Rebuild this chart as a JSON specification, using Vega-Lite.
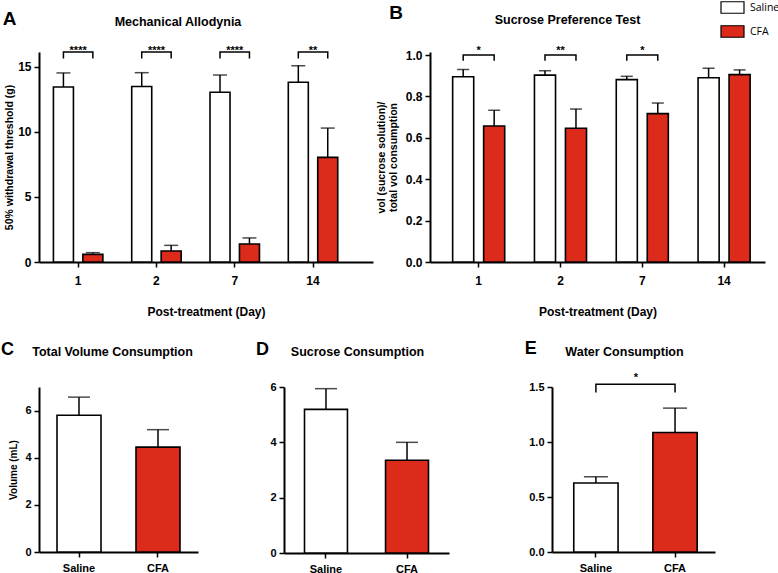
{
  "$schema": "https://vega.github.io/schema/vega-lite/v6.json",
  "padding": {"left": 0, "top": -5, "right": 0, "bottom": 0},
  "background": "white",
  "config": {
    "view": {"stroke": null},
    "font": "Liberation Sans",
    "axis": {"domainColor": "black", "domainWidth": 2, "tickColor": "black", "tickWidth": 1.5, "tickSize": 5, "labelColor": "black", "labelFont": "Liberation Sans", "labelFontWeight": "bold", "labelFontSize": 12, "titleFont": "Liberation Sans", "titleFontWeight": "bold", "titleColor": "black", "titleFontSize": 11, "grid": false, "labelPadding": 3},
    "axisX": {"labelAngle": 0},
    "title": {"font": "Liberation Sans", "fontWeight": "bold", "fontSize": 12.5, "color": "black"}
  },
  "datasets": {
    "allodynia": [
      {"day": "1", "group": "Saline", "mean": 13.46, "upper": 14.54},
      {"day": "1", "group": "CFA", "mean": 0.59, "upper": 0.72},
      {"day": "2", "group": "Saline", "mean": 13.5, "upper": 14.56},
      {"day": "2", "group": "CFA", "mean": 0.85, "upper": 1.28},
      {"day": "7", "group": "Saline", "mean": 13.05, "upper": 14.38},
      {"day": "7", "group": "CFA", "mean": 1.38, "upper": 1.85},
      {"day": "14", "group": "Saline", "mean": 13.82, "upper": 15.1},
      {"day": "14", "group": "CFA", "mean": 8.05, "upper": 10.3}
    ],
    "spt": [
      {"day": "1", "group": "Saline", "mean": 0.895, "upper": 0.93},
      {"day": "1", "group": "CFA", "mean": 0.657, "upper": 0.733},
      {"day": "2", "group": "Saline", "mean": 0.903, "upper": 0.924},
      {"day": "2", "group": "CFA", "mean": 0.646, "upper": 0.739},
      {"day": "7", "group": "Saline", "mean": 0.881, "upper": 0.897},
      {"day": "7", "group": "CFA", "mean": 0.717, "upper": 0.768},
      {"day": "14", "group": "Saline", "mean": 0.89, "upper": 0.936},
      {"day": "14", "group": "CFA", "mean": 0.905, "upper": 0.928}
    ],
    "total": [
      {"group": "Saline", "mean": 5.8, "upper": 6.57},
      {"group": "CFA", "mean": 4.45, "upper": 5.19}
    ],
    "sucrose": [
      {"group": "Saline", "mean": 5.19, "upper": 5.94},
      {"group": "CFA", "mean": 3.35, "upper": 4.0}
    ],
    "water": [
      {"group": "Saline", "mean": 0.627, "upper": 0.684},
      {"group": "CFA", "mean": 1.086, "upper": 1.308}
    ],
    "bracketA": [
      {"day": "1", "group": "Saline", "y": 15.65, "ord": 0},
      {"day": "1", "group": "Saline", "y": 16.15, "ord": 1},
      {"day": "1", "group": "CFA", "y": 16.15, "ord": 2},
      {"day": "1", "group": "CFA", "y": 15.65, "ord": 3},
      {"day": "2", "group": "Saline", "y": 15.65, "ord": 0},
      {"day": "2", "group": "Saline", "y": 16.15, "ord": 1},
      {"day": "2", "group": "CFA", "y": 16.15, "ord": 2},
      {"day": "2", "group": "CFA", "y": 15.65, "ord": 3},
      {"day": "7", "group": "Saline", "y": 15.65, "ord": 0},
      {"day": "7", "group": "Saline", "y": 16.15, "ord": 1},
      {"day": "7", "group": "CFA", "y": 16.15, "ord": 2},
      {"day": "7", "group": "CFA", "y": 15.65, "ord": 3},
      {"day": "14", "group": "Saline", "y": 15.65, "ord": 0},
      {"day": "14", "group": "Saline", "y": 16.15, "ord": 1},
      {"day": "14", "group": "CFA", "y": 16.15, "ord": 2},
      {"day": "14", "group": "CFA", "y": 15.65, "ord": 3}
    ],
    "starsA": [
      {"day": "1", "y": 16.15, "label": "****"},
      {"day": "2", "y": 16.15, "label": "****"},
      {"day": "7", "y": 16.15, "label": "****"},
      {"day": "14", "y": 16.15, "label": "**"}
    ],
    "bracketB": [
      {"day": "1", "group": "Saline", "y": 0.972, "ord": 0},
      {"day": "1", "group": "Saline", "y": 1.0, "ord": 1},
      {"day": "1", "group": "CFA", "y": 1.0, "ord": 2},
      {"day": "1", "group": "CFA", "y": 0.972, "ord": 3},
      {"day": "2", "group": "Saline", "y": 0.972, "ord": 0},
      {"day": "2", "group": "Saline", "y": 1.0, "ord": 1},
      {"day": "2", "group": "CFA", "y": 1.0, "ord": 2},
      {"day": "2", "group": "CFA", "y": 0.972, "ord": 3},
      {"day": "7", "group": "Saline", "y": 0.972, "ord": 0},
      {"day": "7", "group": "Saline", "y": 1.0, "ord": 1},
      {"day": "7", "group": "CFA", "y": 1.0, "ord": 2},
      {"day": "7", "group": "CFA", "y": 0.972, "ord": 3}
    ],
    "starsB": [
      {"day": "1", "y": 1.0, "label": "*"},
      {"day": "2", "y": 1.0, "label": "**"},
      {"day": "7", "y": 1.0, "label": "*"}
    ],
    "bracketE": [
      {"group": "Saline", "y": 1.45, "ord": 0},
      {"group": "Saline", "y": 1.524, "ord": 1},
      {"group": "CFA", "y": 1.524, "ord": 2},
      {"group": "CFA", "y": 1.45, "ord": 3}
    ],
    "starsE": [
      {"y": 1.524, "label": "*"}
    ]
  },
  "vconcat": [
    {
      "hconcat": [
        {
          "title": {"text": "A", "anchor": "start", "frame": "bounds", "fontSize": 19, "dx": -2, "dy": 28, "baseline": "alphabetic", "offset": 0},
          "hconcat": [
            {
              "width": 334,
              "height": 210,
              "title": {"text": "Mechanical Allodynia", "dx": -28, "offset": 7, "baseline": "alphabetic"},
              "encoding": {
                "x": {"field": "day", "type": "nominal", "sort": ["1", "2", "7", "14"], "title": "Post-treatment (Day)", "scale": {"paddingInner": 0, "paddingOuter": 0.133, "align": 0}, "axis": {"labelPadding": 8, "titlePadding": 20, "titleFontSize": 12}}
              },
              "layer": [
                {
                  "data": {"name": "allodynia"},
                  "mark": {"type": "rule", "strokeWidth": 1.5, "color": "black"},
                  "encoding": {
                    "xOffset": {"field": "group", "sort": ["Saline", "CFA"], "scale": {"paddingInner": 0.32, "paddingOuter": 0.49}},
                    "y": {"field": "mean", "type": "quantitative", "scale": {"domain": [0, 16.15], "nice": false}, "axis": {"values": [0, 5, 10, 15], "titlePadding": 3, "titleFontSize": 10.5}, "title": "50% withdrawal threshold (g)"},
                    "y2": {"field": "upper"}
                  }
                },
                {
                  "data": {"name": "allodynia"},
                  "mark": {"type": "tick", "size": 14, "thickness": 1.5, "color": "black"},
                  "encoding": {
                    "xOffset": {"field": "group", "sort": ["Saline", "CFA"]},
                    "y": {"field": "upper", "type": "quantitative", "title": "50% withdrawal threshold (g)"}
                  }
                },
                {
                  "data": {"name": "allodynia"},
                  "mark": {"type": "bar", "stroke": "black", "strokeWidth": 1.6},
                  "encoding": {
                    "xOffset": {"field": "group", "sort": ["Saline", "CFA"]},
                    "y": {"field": "mean", "type": "quantitative", "title": "50% withdrawal threshold (g)"},
                    "fill": {"field": "group", "type": "nominal", "scale": {"domain": ["Saline", "CFA"], "range": ["white", "#dc2a1b"]}, "legend": null}
                  }
                },
                {
                  "data": {"name": "bracketA"},
                  "mark": {"type": "line", "color": "black", "strokeWidth": 1.5, "strokeJoin": "miter"},
                  "encoding": {
                    "xOffset": {"field": "group", "sort": ["Saline", "CFA"]},
                    "y": {"field": "y", "type": "quantitative", "title": "50% withdrawal threshold (g)"},
                    "detail": {"field": "day"},
                    "order": {"field": "ord"}
                  }
                },
                {
                  "data": {"name": "starsA"},
                  "mark": {"type": "text", "fontSize": 11, "fontWeight": "bold", "baseline": "alphabetic", "dy": 2, "color": "black"},
                  "encoding": {
                    "y": {"field": "y", "type": "quantitative", "title": "50% withdrawal threshold (g)"},
                    "text": {"field": "label"}
                  }
                }
              ]
            }
          ]
        },
        {
          "title": {"text": "B", "anchor": "start", "frame": "bounds", "fontSize": 19, "dx": 13, "dy": 43, "baseline": "alphabetic", "offset": 0},
          "hconcat": [
            {
              "width": 335,
              "height": 210,
              "title": {"text": "Sucrose Preference Test", "dx": -30, "offset": 9, "baseline": "alphabetic"},
              "encoding": {
                "x": {"field": "day", "type": "nominal", "sort": ["1", "2", "7", "14"], "title": "Post-treatment (Day)", "scale": {"paddingInner": 0, "paddingOuter": 0.0475, "align": 1}, "axis": {"labelPadding": 8, "titlePadding": 20, "titleFontSize": 12}}
              },
              "layer": [
                {
                  "data": {"name": "spt"},
                  "mark": {"type": "rule", "strokeWidth": 1.5, "color": "black"},
                  "encoding": {
                    "xOffset": {"field": "group", "sort": ["Saline", "CFA"], "scale": {"paddingInner": 0.32, "paddingOuter": 0.48}},
                    "y": {"field": "mean", "type": "quantitative", "scale": {"domain": [0, 1.0145], "nice": false}, "axis": {"values": [0, 0.2, 0.4, 0.6, 0.8, 1.0], "format": ".1f", "titlePadding": 7, "titleFontSize": 10.5, "titleLineHeight": 12}, "title": ["vol (sucrose solution)/", "total vol consumption"]},
                    "y2": {"field": "upper"}
                  }
                },
                {
                  "data": {"name": "spt"},
                  "mark": {"type": "tick", "size": 12, "thickness": 1.5, "color": "black"},
                  "encoding": {
                    "xOffset": {"field": "group", "sort": ["Saline", "CFA"]},
                    "y": {"field": "upper", "type": "quantitative", "title": ["vol (sucrose solution)/", "total vol consumption"]}
                  }
                },
                {
                  "data": {"name": "spt"},
                  "mark": {"type": "bar", "stroke": "black", "strokeWidth": 1.6},
                  "encoding": {
                    "xOffset": {"field": "group", "sort": ["Saline", "CFA"]},
                    "y": {"field": "mean", "type": "quantitative", "title": ["vol (sucrose solution)/", "total vol consumption"]},
                    "fill": {"field": "group", "type": "nominal", "scale": {"domain": ["Saline", "CFA"], "range": ["white", "#dc2a1b"]}, "legend": {"title": null, "orient": "none", "legendX": 290, "legendY": -57, "symbolType": "M-1,-0.5H1V0.5H-1Z", "symbolSize": 529, "symbolStrokeColor": "black", "symbolStrokeWidth": 1.2, "labelFont": "Open Sans", "labelFontSize": 10.5, "labelColor": "black", "labelOffset": 5, "rowPadding": 3}}
                  }
                },
                {
                  "data": {"name": "bracketB"},
                  "mark": {"type": "line", "color": "black", "strokeWidth": 1.5, "strokeJoin": "miter"},
                  "encoding": {
                    "xOffset": {"field": "group", "sort": ["Saline", "CFA"]},
                    "y": {"field": "y", "type": "quantitative", "title": ["vol (sucrose solution)/", "total vol consumption"]},
                    "detail": {"field": "day"},
                    "order": {"field": "ord"}
                  }
                },
                {
                  "data": {"name": "starsB"},
                  "mark": {"type": "text", "fontSize": 11, "fontWeight": "bold", "baseline": "alphabetic", "dy": -1, "color": "black"},
                  "encoding": {
                    "y": {"field": "y", "type": "quantitative", "title": ["vol (sucrose solution)/", "total vol consumption"]},
                    "text": {"field": "label"}
                  }
                }
              ]
            }
          ]
        }
      ],
      "spacing": 3,
      "resolve": {"scale": {"x": "independent", "y": "independent", "fill": "independent", "xOffset": "independent"}, "legend": {"fill": "independent"}}
    },
    {
      "hconcat": [
        {
          "title": {"text": "C", "anchor": "start", "frame": "bounds", "fontSize": 18, "dx": -8, "dy": 27, "baseline": "alphabetic", "offset": 0},
          "hconcat": [
            {
              "width": 159,
              "height": 165,
              "title": {"text": "Total Volume Consumption", "dx": -6, "offset": 18.5, "baseline": "alphabetic"},
              "encoding": {
                "x": {"field": "group", "type": "nominal", "sort": ["Saline", "CFA"], "title": null, "scale": {"paddingInner": 0.443, "paddingOuter": 0.228}, "axis": {"labelPadding": 5, "tickSize": 5, "labelFontSize": 11}}
              },
              "layer": [
                {
                  "data": {"name": "total"},
                  "mark": {"type": "rule", "strokeWidth": 1.5, "color": "black"},
                  "encoding": {
                    "y": {"field": "mean", "type": "quantitative", "scale": {"domain": [0, 7], "nice": false}, "axis": {"values": [0, 2, 4, 6], "titlePadding": 6, "labelFontSize": 11, "titleFontSize": 10}, "title": "Volume (mL)"},
                    "y2": {"field": "upper"}
                  }
                },
                {
                  "data": {"name": "total"},
                  "mark": {"type": "tick", "size": 22, "thickness": 1.5, "color": "black"},
                  "encoding": {"y": {"field": "upper", "type": "quantitative", "title": "Volume (mL)"}}
                },
                {
                  "data": {"name": "total"},
                  "mark": {"type": "bar", "stroke": "black", "strokeWidth": 1.6},
                  "encoding": {
                    "y": {"field": "mean", "type": "quantitative", "title": "Volume (mL)"},
                    "fill": {"field": "group", "type": "nominal", "scale": {"domain": ["Saline", "CFA"], "range": ["white", "#dc2a1b"]}, "legend": null}
                  }
                }
              ]
            }
          ]
        },
        {
          "title": {"text": "D", "anchor": "start", "frame": "bounds", "fontSize": 18, "dx": -14, "dy": 27, "baseline": "alphabetic", "offset": 0},
          "hconcat": [
            {
              "width": 165,
              "height": 166,
              "title": {"text": "Sucrose Consumption", "dx": -9, "offset": 13, "baseline": "alphabetic"},
              "encoding": {
                "x": {"field": "group", "type": "nominal", "sort": ["Saline", "CFA"], "title": null, "scale": {"paddingInner": 0.47, "paddingOuter": 0.253}, "axis": {"labelPadding": 5, "tickSize": 5, "labelFontSize": 11}}
              },
              "layer": [
                {
                  "data": {"name": "sucrose"},
                  "mark": {"type": "rule", "strokeWidth": 1.5, "color": "black"},
                  "encoding": {
                    "y": {"field": "mean", "type": "quantitative", "scale": {"domain": [0, 6], "nice": false}, "axis": {"values": [0, 2, 4, 6], "labelFontSize": 11}, "title": null},
                    "y2": {"field": "upper"}
                  }
                },
                {
                  "data": {"name": "sucrose"},
                  "mark": {"type": "tick", "size": 22, "thickness": 1.5, "color": "black"},
                  "encoding": {"y": {"field": "upper", "type": "quantitative", "title": null}}
                },
                {
                  "data": {"name": "sucrose"},
                  "mark": {"type": "bar", "stroke": "black", "strokeWidth": 1.6},
                  "encoding": {
                    "y": {"field": "mean", "type": "quantitative", "title": null},
                    "fill": {"field": "group", "type": "nominal", "scale": {"domain": ["Saline", "CFA"], "range": ["white", "#dc2a1b"]}, "legend": null}
                  }
                }
              ]
            }
          ]
        },
        {
          "title": {"text": "E", "anchor": "start", "frame": "bounds", "fontSize": 18, "dx": 18, "dy": 26, "baseline": "alphabetic", "offset": 0},
          "hconcat": [
            {
              "width": 163,
              "height": 165,
              "title": {"text": "Water Consumption", "dx": -9, "offset": 4, "baseline": "alphabetic"},
              "encoding": {
                "x": {"field": "group", "type": "nominal", "sort": ["Saline", "CFA"], "title": null, "scale": {"paddingInner": 0.44, "paddingOuter": 0.25, "align": 0.55}, "axis": {"labelPadding": 5, "tickSize": 5, "labelFontSize": 11}}
              },
              "layer": [
                {
                  "data": {"name": "water"},
                  "mark": {"type": "rule", "strokeWidth": 1.5, "color": "black"},
                  "encoding": {
                    "y": {"field": "mean", "type": "quantitative", "scale": {"domain": [0, 1.5], "nice": false}, "axis": {"values": [0, 0.5, 1.0, 1.5], "format": ".1f", "labelFontSize": 11, "titleFontSize": 10, "titlePadding": 12}, "title": " "},
                    "y2": {"field": "upper"}
                  }
                },
                {
                  "data": {"name": "water"},
                  "mark": {"type": "tick", "size": 24, "thickness": 1.5, "color": "black"},
                  "encoding": {"y": {"field": "upper", "type": "quantitative", "title": " "}}
                },
                {
                  "data": {"name": "water"},
                  "mark": {"type": "bar", "stroke": "black", "strokeWidth": 1.6},
                  "encoding": {
                    "y": {"field": "mean", "type": "quantitative", "title": " "},
                    "fill": {"field": "group", "type": "nominal", "scale": {"domain": ["Saline", "CFA"], "range": ["white", "#dc2a1b"]}, "legend": null}
                  }
                },
                {
                  "data": {"name": "bracketE"},
                  "mark": {"type": "line", "color": "black", "strokeWidth": 1.5, "strokeJoin": "miter"},
                  "encoding": {
                    "y": {"field": "y", "type": "quantitative", "title": " "},
                    "order": {"field": "ord"}
                  }
                },
                {
                  "data": {"name": "starsE"},
                  "mark": {"type": "text", "fontSize": 11, "fontWeight": "bold", "baseline": "alphabetic", "dy": -3, "color": "black"},
                  "encoding": {
                    "x": {"datum": "Saline", "bandPosition": 1.4},
                    "y": {"field": "y", "type": "quantitative", "title": " "},
                    "text": {"field": "label"}
                  }
                }
              ]
            }
          ]
        }
      ],
      "spacing": 57,
      "resolve": {"scale": {"x": "independent", "y": "independent", "fill": "independent"}, "legend": {"fill": "independent"}}
    }
  ],
  "spacing": 22
}
